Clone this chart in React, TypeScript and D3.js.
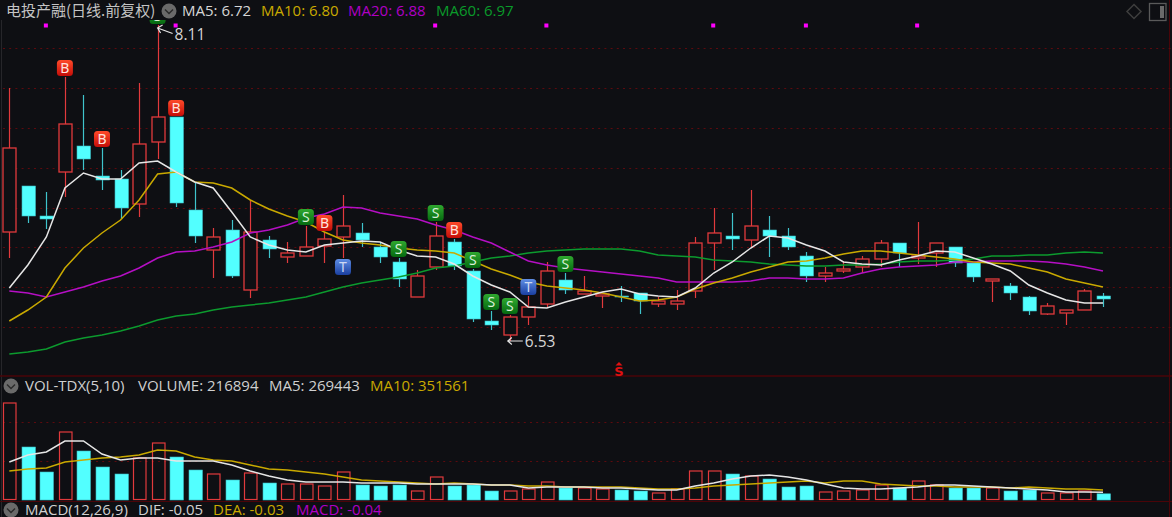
import React from "react";
import * as d3 from "d3";

const opens = [7.075,7.305,7.155,7.375,7.505,7.355,7.34,7.215,7.525,7.65,7.185,6.985,7.085,6.785,7.035,6.95,6.955,7.005,7.05,7.07,7.0,6.925,6.75,6.9,7.025,6.88,6.63,6.56,6.65,6.715,6.835,6.765,6.755,6.755,6.77,6.715,6.715,6.78,7.02,7.055,7.035,7.085,7.055,6.955,6.855,6.88,6.9,6.94,7.02,6.945,6.97,7.0,6.92,6.83,6.805,6.75,6.665,6.67,6.685,6.755];
const closes = [7.495,7.155,7.14,7.615,7.44,7.335,7.195,7.515,7.65,7.22,7.055,7.05,6.855,7.075,6.99,6.97,7.0,7.04,7.105,7.035,6.95,6.84,6.855,7.055,6.905,6.64,6.61,6.65,6.7,6.88,6.785,6.78,6.765,6.75,6.73,6.73,6.73,7.02,7.07,7.04,7.105,7.055,7.0,6.855,6.87,6.89,6.94,7.02,6.97,6.955,7.02,6.92,6.85,6.84,6.77,6.68,6.705,6.685,6.78,6.74];
const highs = [7.795,7.305,7.275,7.85,7.76,7.495,7.385,7.82,8.11,7.65,7.32,7.095,7.135,7.235,7.055,7.025,7.105,7.075,7.26,7.12,7.02,6.945,6.885,7.125,7.04,6.89,6.68,6.66,6.755,6.925,6.87,6.855,6.765,6.805,6.77,6.75,6.785,7.05,7.195,7.17,7.285,7.155,7.095,6.975,6.9,6.93,6.955,7.035,7.02,7.125,7.02,7.0,6.92,6.84,6.82,6.755,6.72,6.685,6.79,6.77];
const lows = [6.945,7.12,7.09,7.25,7.385,7.285,7.14,7.15,7.44,7.2,7.02,6.845,6.845,6.745,6.945,6.92,6.955,6.92,6.945,7.0,6.92,6.8,6.75,6.885,6.885,6.625,6.585,6.53,6.61,6.695,6.765,6.765,6.695,6.725,6.665,6.7,6.685,6.745,6.885,6.985,6.995,6.95,6.985,6.825,6.825,6.87,6.87,6.9,6.9,6.915,6.9,6.9,6.825,6.725,6.735,6.66,6.66,6.61,6.685,6.7];

const ma5 = [6.795,6.91,7.05,7.295,7.37,7.34,7.34,7.42,7.43,7.375,7.325,7.295,7.175,7.05,7.01,6.985,6.975,7.01,7.02,7.03,7.025,6.985,6.955,6.95,6.915,6.855,6.81,6.775,6.7,6.695,6.725,6.75,6.775,6.79,6.765,6.755,6.75,6.795,6.87,6.925,6.995,7.055,7.045,7.01,6.98,6.925,6.915,6.91,6.935,6.955,6.98,6.975,6.945,6.915,6.88,6.81,6.77,6.735,6.72,6.72];
const ma10 = [6.63,6.685,6.75,6.895,6.995,7.07,7.135,7.235,7.365,7.375,7.325,7.32,7.295,7.235,7.19,7.155,7.125,7.075,7.035,7.02,7.01,6.995,6.985,6.98,6.97,6.93,6.89,6.86,6.825,6.805,6.795,6.785,6.77,6.75,6.73,6.735,6.75,6.79,6.82,6.845,6.875,6.9,6.925,6.93,6.945,6.965,6.98,6.98,6.97,6.96,6.95,6.94,6.925,6.92,6.915,6.895,6.875,6.84,6.82,6.8];
const ma20 = [6.78,6.77,6.75,6.775,6.8,6.83,6.855,6.895,6.945,6.975,6.98,7.0,7.025,7.07,7.085,7.11,7.145,7.165,7.2,7.195,7.17,7.155,7.14,7.11,7.085,7.05,7.02,6.975,6.93,6.91,6.895,6.885,6.875,6.865,6.855,6.845,6.825,6.825,6.825,6.825,6.83,6.845,6.845,6.84,6.84,6.845,6.87,6.89,6.9,6.905,6.91,6.925,6.925,6.93,6.93,6.93,6.925,6.915,6.9,6.88];
const ma60 = [6.465,6.475,6.49,6.525,6.545,6.56,6.58,6.605,6.635,6.655,6.665,6.685,6.7,6.71,6.72,6.735,6.75,6.775,6.8,6.82,6.835,6.85,6.87,6.895,6.905,6.925,6.945,6.955,6.97,6.98,6.985,6.99,6.99,6.99,6.98,6.96,6.955,6.95,6.935,6.93,6.925,6.915,6.91,6.905,6.905,6.91,6.91,6.915,6.925,6.93,6.93,6.935,6.94,6.955,6.955,6.96,6.96,6.97,6.975,6.97];

// volume, in thousands of lots
const volumes = [3395,1855,980,2380,1715,1155,910,1470,1995,1505,1050,910,700,945,595,560,560,490,980,525,490,525,315,805,490,525,315,315,385,630,420,420,385,350,315,245,385,1015,1015,910,840,735,455,490,280,315,350,525,420,665,525,420,420,420,315,350,245,245,315,217];
const volMa5 = [1330,1575,1680,2065,2065,1610,1400,1470,1470,1365,1365,1365,1225,1015,840,700,630,630,630,595,595,595,560,560,560,560,525,525,420,455,455,455,420,420,385,350,350,490,595,735,840,875,805,700,560,420,385,385,420,455,525,525,490,455,420,385,350,280,280,269];
const volMa10 = [1015,1085,1120,1330,1400,1470,1505,1575,1750,1715,1505,1400,1365,1225,1085,1050,980,910,805,700,665,630,595,560,595,560,525,525,490,490,455,455,455,455,420,385,385,420,490,525,560,595,630,665,595,665,665,560,525,490,490,455,455,455,420,455,420,385,385,352];

const signalIndex = [3,5,9,8,16,17,18,21,23,24,25,26,27,28,30];
const signalKind = ["B","B","B","S","S","B","T","S","S","B","S","S","S","T","S"];
const signalBelow = [18];
const dotIndex = [2,9,23,29,38,43,49];

const priceGrid = [7.995,7.795,7.595,7.395,7.195,7.0,6.8,6.6];
const volGrid = [2730,1365];

const quoteTitle = "电投产融(日线.前复权)";
const maLegend = [
  { t: "MA5: 6.72", x: 182, c: "#d6d6d6" },
  { t: "MA10: 6.80", x: 261, c: "#c9a900" },
  { t: "MA20: 6.88", x: 348, c: "#b000c4" },
  { t: "MA60: 6.97", x: 436, c: "#0a9a2a" },
];
const volLegend = [
  { t: "VOL-TDX(5,10)", x: 25, c: "#d0d0d0" },
  { t: "VOLUME: 216894", x: 138, c: "#d0d0d0" },
  { t: "MA5: 269443", x: 269, c: "#d0d0d0" },
  { t: "MA10: 351561", x: 370, c: "#c9a900" },
];
const macdLegend = [
  { t: "MACD(12,26,9)", x: 25, c: "#d0d0d0" },
  { t: "DIF: -0.05", x: 138, c: "#d0d0d0" },
  { t: "DEA: -0.03", x: 213, c: "#c9a900" },
  { t: "MACD: -0.04", x: 296, c: "#b000c4" },
];

const BG = "#0e0f13";
const RED = "#e23a3c";
const CYAN = "#52ffff";
const GRID = "#5c0a0e";
const BORDER = "#4a0408";
const FONT = "'Open Sans','Noto Sans CJK SC',sans-serif";

const x = d3.scaleLinear().domain([0, 59]).range([9.3, 1103]);
const y = d3.scaleLinear().domain([6.53, 8.11]).range([341, 25]);
const yv = d3.scaleLinear().domain([0, 3500]).range([500, 400]);

const pLine = d3.line<number>().x((_, i) => x(i)).y((d) => y(d));
const vLine = d3.line<number>().x((_, i) => x(i)).y((d) => yv(d));

const sigColors: Record<string, [string, string, string]> = {
  B: ["#ff4a2a", "#c40d08", "#ffe2dc"],
  S: ["#2fa82f", "#056a10", "#d8f0d8"],
  T: ["#5f8ee6", "#1a3fa0", "#cdd9f2"],
};

function Caret({ cx, cy }: { cx: number; cy: number }) {
  return (
    <g>
      <circle cx={cx} cy={cy} r={7.5} fill="#6a6a6a" />
      <path d={`M${cx - 4} ${cy - 1.5}L${cx} ${cy + 2.5}L${cx + 4} ${cy - 1.5}`} fill="none" stroke="#2a2a2a" strokeWidth={1.4} />
    </g>
  );
}

export default function App() {
  return (
    <svg
      width={1172}
      height={517}
      style={{ position: "absolute", left: 0, top: 0, background: BG, display: "block" }}
      fontFamily={FONT}
    >
      <defs>
        {Object.entries(sigColors).map(([k, c]) => (
          <linearGradient key={k} id={`sig${k}`} x1="0" y1="0" x2="0" y2="1">
            <stop offset="0" stopColor={c[0]} />
            <stop offset="1" stopColor={c[1]} />
          </linearGradient>
        ))}
        <clipPath id="pricePanel">
          <rect x={0} y={20} width={1172} height={356} />
        </clipPath>
      </defs>

      {/* frame and grid */}
      <line x1={1.5} x2={1.5} y1={0} y2={517} stroke="#26262a" strokeWidth={1} />
      <line x1={1169.5} x2={1169.5} y1={0} y2={517} stroke={BORDER} strokeWidth={1} />
      <line x1={0} x2={1172} y1={376} y2={376} stroke={BORDER} strokeWidth={1.6} />
      <line x1={0} x2={1172} y1={501.5} y2={501.5} stroke={BORDER} strokeWidth={1} />
      {priceGrid.map((p) => (
        <line key={p} x1={3} x2={1172} y1={Math.round(y(p)) + 0.5} y2={Math.round(y(p)) + 0.5} stroke={GRID} strokeDasharray="2 4.2" />
      ))}
      {volGrid.map((v) => (
        <line key={v} x1={3} x2={1172} y1={Math.round(yv(v)) + 0.5} y2={Math.round(yv(v)) + 0.5} stroke={GRID} strokeDasharray="2 4.2" />
      ))}

      {/* candles */}
      {closes.map((c, i) => {
        const up = c >= opens[i];
        const col = up ? RED : CYAN;
        const top = y(Math.max(c, opens[i]));
        const bot = y(Math.min(c, opens[i]));
        const cx = Math.round(x(i)) + 0.5;
        return (
          <g key={i}>
            <line x1={cx} x2={cx} y1={y(highs[i])} y2={top} stroke={up ? RED : "#3fc4cc"} strokeWidth={1.2} />
            <line x1={cx} x2={cx} y1={bot} y2={y(lows[i])} stroke={up ? RED : "#3fc4cc"} strokeWidth={1.2} />
            {up ? (
              <rect x={cx - 6.5} y={top} width={13} height={Math.max(bot - top, 1)} fill={BG} stroke={col} strokeWidth={1.3} />
            ) : (
              <rect x={cx - 6.5} y={top} width={13.5} height={Math.max(bot - top, 1)} fill={col} stroke="#39b8c0" strokeWidth={0.6} />
            )}
          </g>
        );
      })}

      {/* price moving averages */}
      <path d={pLine(ma60)!} fill="none" stroke="#0c9a2e" strokeWidth={1.5} />
      <path d={pLine(ma20)!} fill="none" stroke="#b50fc4" strokeWidth={1.5} />
      <path d={pLine(ma10)!} fill="none" stroke="#c9a900" strokeWidth={1.5} />
      <path d={pLine(ma5)!} fill="none" stroke="#e6e6e6" strokeWidth={1.5} />

      {/* signals */}
      <g clipPath="url(#pricePanel)">
        {signalIndex.map((idx, k) => {
          const kind = signalKind[k];
          const below = signalBelow.includes(idx);
          const cx = x(idx);
          const cy = below ? y(lows[idx]) + 9 : y(highs[idx]) - 9;
          return (
            <g key={idx}>
              <rect x={cx - 8} y={cy - 8} width={16} height={16} rx={3.5} fill={`url(#sig${kind})`} />
              <text x={cx} y={cy + 5} textAnchor="middle" fontSize={14} fill={sigColors[kind][2]} fontFamily="'Noto Sans',sans-serif">{kind}</text>
            </g>
          );
        })}
      </g>

      {/* high / low labels */}
      {(() => {
        const hi = d3.maxIndex(highs);
        const lo = d3.minIndex(lows);
        const hx = x(hi);
        const hy = y(highs[hi]) + 3;
        const lx = x(lo) - 2;
        const ly = y(lows[lo]);
        return (
          <g>
            <path d={`M${hx + 15} ${hy + 5.5}L${hx} ${hy}M${hx + 5} ${hy - 3}L${hx} ${hy}L${hx + 3} ${hy + 5}`} fill="none" stroke="#e6e6e6" strokeWidth={1.2} />
            <text x={hx + 17} y={hy + 12} fontSize={15.5} fill="#d6d6d6">8.11</text>
            <path d={`M${lx + 15} ${ly}L${lx} ${ly}M${lx + 4} ${ly - 3.5}L${lx} ${ly}L${lx + 4} ${ly + 3.5}`} fill="none" stroke="#e6e6e6" strokeWidth={1.2} />
            <text x={lx + 17} y={ly + 5.5} fontSize={15.5} fill="#d6d6d6">6.53</text>
          </g>
        );
      })()}

      {/* magenta markers */}
      {dotIndex.map((i) => (
        <rect key={i} x={x(i) - 2.5} y={23.5} width={4} height={4} fill="#ff00ff" />
      ))}

      {/* red S mark */}
      <path d="M615.5 365.5L619 362L622.5 365.5Z" fill="#e01010" />
      <text x={619} y={376} textAnchor="middle" fontSize={13} fontWeight={700} fill="#e01010" fontFamily="'DejaVu Sans',sans-serif">S</text>

      {/* volume */}
      {volumes.map((v, i) => {
        const up = closes[i] >= opens[i];
        const cx = Math.round(x(i)) + 0.5;
        return up ? (
          <rect key={i} x={cx - 6} y={yv(v)} width={12.5} height={499.5 - yv(v)} fill="none" stroke={RED} strokeWidth={1.2} />
        ) : (
          <rect key={i} x={cx - 6.5} y={yv(v)} width={13.5} height={500 - yv(v)} fill={CYAN} stroke="#39b8c0" strokeWidth={0.6} />
        );
      })}
      <path d={vLine(volMa10)!} fill="none" stroke="#c9a900" strokeWidth={1.5} />
      <path d={vLine(volMa5)!} fill="none" stroke="#e6e6e6" strokeWidth={1.5} />

      {/* header rows */}
      <rect x={0} y={0} width={1168} height={20} fill={BG} />
      <text x={6} y={16} fontSize={15} fill="#c4c4c4" fontFamily="'Noto Sans CJK SC',sans-serif">{quoteTitle}</text>
      <Caret cx={169} cy={11} />
      {maLegend.map((d) => (
        <text key={d.t} x={d.x} y={16} fontSize={15} fill={d.c}>{d.t}</text>
      ))}
      <rect x={3} y={378} width={600} height={18} fill={BG} />
      <Caret cx={11} cy={386} />
      {volLegend.map((d) => (
        <text key={d.t} x={d.x} y={391} fontSize={15} fill={d.c}>{d.t}</text>
      ))}
      <Caret cx={11} cy={510} />
      {macdLegend.map((d) => (
        <text key={d.t} x={d.x} y={515} fontSize={15} fill={d.c}>{d.t}</text>
      ))}

      {/* window icons */}
      <path d="M1134 4.5L1141 11.5L1134 18.5L1127 11.5Z" fill="none" stroke="#3e3e3e" strokeWidth={1.5} />
      <rect x={1149.5} y={3.5} width={16.5} height={17} fill="none" stroke="#5a5a5a" strokeWidth={1.3} />
      <rect x={1160} y={6} width={4} height={12} fill="#6a6a6a" />
    </svg>
  );
}
